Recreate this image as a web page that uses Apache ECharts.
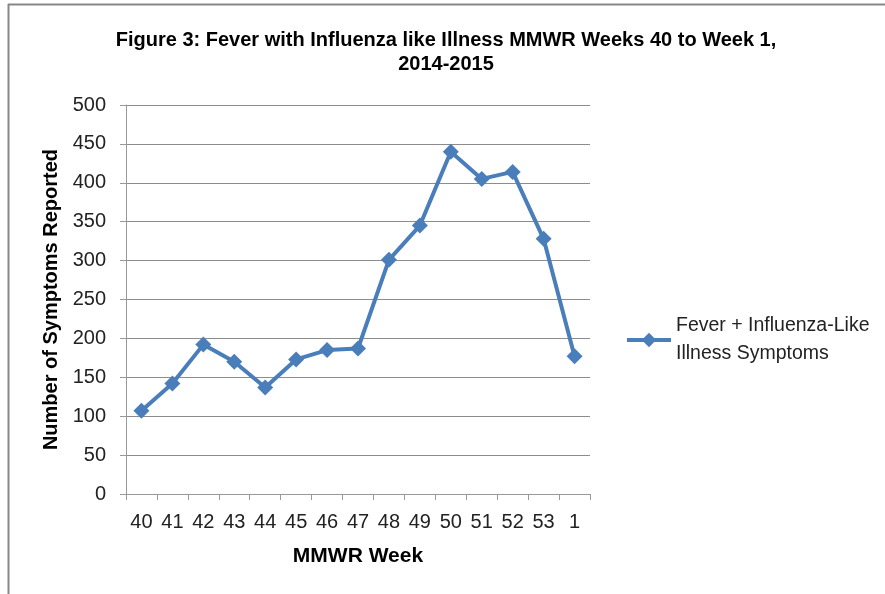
<!DOCTYPE html>
<html><head><meta charset="utf-8">
<script src="https://cdn.jsdelivr.net/npm/echarts@6/dist/echarts.min.js"></script>
<style>html,body{margin:0;padding:0;background:#fff}#c{width:885px;height:594px}</style>
</head><body><div id="c"></div>
<script>
const weeks = ['40','41','42','43','44','45','46','47','48','49','50','51','52','53','1'];
const symptoms = [107,142,192,170,137,173,185,187,301,345,440,405,414,328,177];
const yTicks = [0,50,100,150,200,250,300,350,400,450,500];
const seriesName = 'Fever + Influenza-Like\nIllness Symptoms';
const titleText = 'Figure 3: Fever with Influenza like Illness MMWR Weeks 40 to Week 1,\n2014-2015';

const FONT = '"Liberation Sans", Arial, sans-serif';
const chart = echarts.init(document.getElementById('c'), null, {renderer:'canvas'});
chart.setOption({
  animation:false,
  textStyle:{fontFamily:FONT},
  title:{text:titleText,left:441,top:23,textAlign:'center',
    textStyle:{fontFamily:FONT,fontWeight:'bold',fontSize:20,color:'#000',lineHeight:24}},
  graphic:[
    {type:'line',shape:{x1:8,y1:4.5,x2:885,y2:4.5},style:{stroke:'#888',lineWidth:2}},
    {type:'line',shape:{x1:8.5,y1:4,x2:8.5,y2:594},style:{stroke:'#888',lineWidth:2}}
  ],
  grid:{left:126,top:105,right:295,bottom:100,containLabel:false},
  legend:{left:625,top:312,padding:0,orient:'vertical',itemWidth:44,itemHeight:18,itemGap:5,
    lineStyle:{width:4,color:'#4a7ebb'},
    textStyle:{fontFamily:FONT,fontSize:19.5,color:'#222',lineHeight:28},
    data:[{name:seriesName}]},
  xAxis:{type:'category',data:weeks,boundaryGap:true,
    name:'MMWR Week',nameLocation:'middle',nameGap:52,
    nameTextStyle:{fontFamily:FONT,fontWeight:'bold',fontSize:21,color:'#000'},
    axisLine:{lineStyle:{color:'#999',width:1}},
    axisTick:{show:true,length:6,lineStyle:{color:'#999'}},
    axisLabel:{fontFamily:FONT,fontSize:20,color:'#222',margin:18}},
  yAxis:{type:'value',min:0,max:500,interval:50,
    name:'Number of Symptoms Reported',nameLocation:'middle',nameGap:64,
    nameTextStyle:{fontFamily:FONT,fontWeight:'bold',fontSize:20,color:'#000'},
    axisLine:{show:true,lineStyle:{color:'#999'}},
    axisTick:{show:true,length:6,lineStyle:{color:'#999'}},
    splitLine:{lineStyle:{color:'#8c8c8c',width:1}},
    axisLabel:{fontFamily:FONT,fontSize:20,color:'#222',margin:20,
      formatter:v=>yTicks.includes(v)?String(v):''}},
  series:[{name:seriesName,type:'line',data:symptoms,
    symbol:'diamond',symbolSize:16,
    lineStyle:{color:'#4a7ebb',width:4},
    itemStyle:{color:'#4a7ebb'}}]
});
</script></body></html>
